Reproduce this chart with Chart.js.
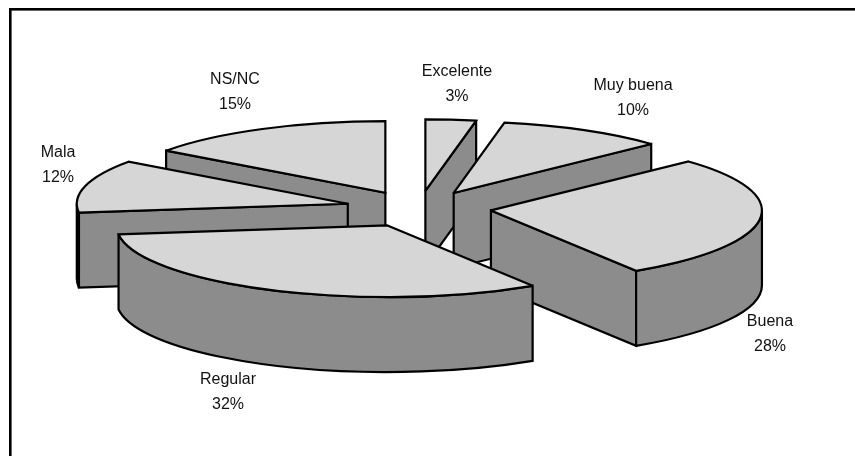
<!DOCTYPE html>
<html>
<head>
<meta charset="utf-8">
<style>
  body { margin: 0; background: #fff; }
</style>
<script src="https://cdn.jsdelivr.net/npm/chart.js@4"></script>
</head>
<body>
<canvas id="chart" width="855" height="456"></canvas>
<script>
const categories = ['Excelente', 'Muy buena', 'Buena', 'Regular', 'Mala', 'NS/NC'];
const values = [3, 10, 28, 32, 12, 15];

// where each category's label sits [center x, first baseline]
const labelAnchors = [[457, 76], [633, 90], [770, 326], [228, 384], [58, 157], [235, 84]];

const TILT = 0.264;       // squash of the pie into an ellipse
const BACK_TILT = 0.235;  // slices going away from the viewer move out a little less
const DEPTH = 75;         // height of the extruded side
const TOP_COLOR = '#d6d6d6';
const SIDE_COLOR = '#8c8c8c';

function drawFace(ctx, trace, fill) {
  ctx.beginPath();
  trace();
  ctx.closePath();
  ctx.fillStyle = fill;
  ctx.fill();
  ctx.stroke();
}

function drawSlice(ctx, arc) {
  const { x, y, startAngle: s, endAngle: e, outerRadius: r } = arc;
  const mid = (s + e) / 2;
  const cx = x + Math.cos(mid) * arc.options.offset;
  const cy = y + Math.sin(mid) * arc.options.offset * (Math.sin(mid) < 0 ? BACK_TILT : TILT);
  const ry = r * TILT;
  const px = a => cx + Math.cos(a) * r;
  const py = a => cy + Math.sin(a) * ry;

  // cut faces, only those turned toward the viewer
  [[s, Math.cos(s) < -1e-6], [e, Math.cos(e) > 1e-6]].forEach(([a, visible]) => {
    if (!visible) return;
    drawFace(ctx, () => {
      ctx.moveTo(cx, cy);
      ctx.lineTo(px(a), py(a));
      ctx.lineTo(px(a), py(a) + DEPTH);
      ctx.lineTo(cx, cy + DEPTH);
    }, SIDE_COLOR);
  });

  // outer wall, the part of the rim on the front half
  const from = Math.max(s, 0);
  const to = Math.min(e, Math.PI);
  if (to > from) {
    drawFace(ctx, () => {
      ctx.ellipse(cx, cy, r, ry, 0, from, to);
      ctx.ellipse(cx, cy + DEPTH, r, ry, 0, to, from, true);
    }, SIDE_COLOR);
  }

  // top face
  drawFace(ctx, () => {
    ctx.moveTo(cx, cy);
    ctx.ellipse(cx, cy, r, ry, 0, s, e);
  }, TOP_COLOR);
}

const pie3d = {
  id: 'pie3d',
  beforeDatasetDraw() {
    return false; // flat arcs are replaced by the extruded ones below
  },
  afterDatasetsDraw(chart) {
    const { ctx } = chart;
    const arcs = chart.getDatasetMeta(0).data.slice();
    // back to front
    arcs.sort((a, b) => Math.sin((a.startAngle + a.endAngle) / 2) - Math.sin((b.startAngle + b.endAngle) / 2));

    ctx.save();
    ctx.strokeStyle = '#000';
    ctx.lineWidth = 2.2;
    ctx.lineJoin = 'miter';
    ctx.miterLimit = 2.5;
    arcs.forEach(arc => drawSlice(ctx, arc));
    ctx.restore();

    // labels
    const total = values.reduce((a, b) => a + b, 0);
    ctx.save();
    ctx.fillStyle = '#111';
    ctx.font = '16px "Liberation Sans"';
    ctx.textAlign = 'center';
    categories.forEach((name, i) => {
      const [lx, ly] = labelAnchors[i];
      ctx.fillText(name, lx, ly);
      ctx.fillText(Math.round(values[i] / total * 100) + '%', lx, ly + 25);
    });
    ctx.restore();

    // frame, only the top and left edges are in the picture
    ctx.fillStyle = '#000';
    ctx.fillRect(9, 8, 846, 2.6);
    ctx.fillRect(9, 8, 2.6, 448);
  }
};

new Chart(document.getElementById('chart'), {
  type: 'pie',
  data: {
    labels: categories,
    datasets: [{
      data: values,
      offset: 73,
      borderWidth: 0
    }]
  },
  options: {
    responsive: false,
    animation: false,
    radius: 271,
    layout: { padding: { right: 18, bottom: 40 } },
    plugins: {
      legend: { display: false },
      tooltip: { enabled: false }
    }
  },
  plugins: [pie3d]
});
</script>
</body>
</html>
